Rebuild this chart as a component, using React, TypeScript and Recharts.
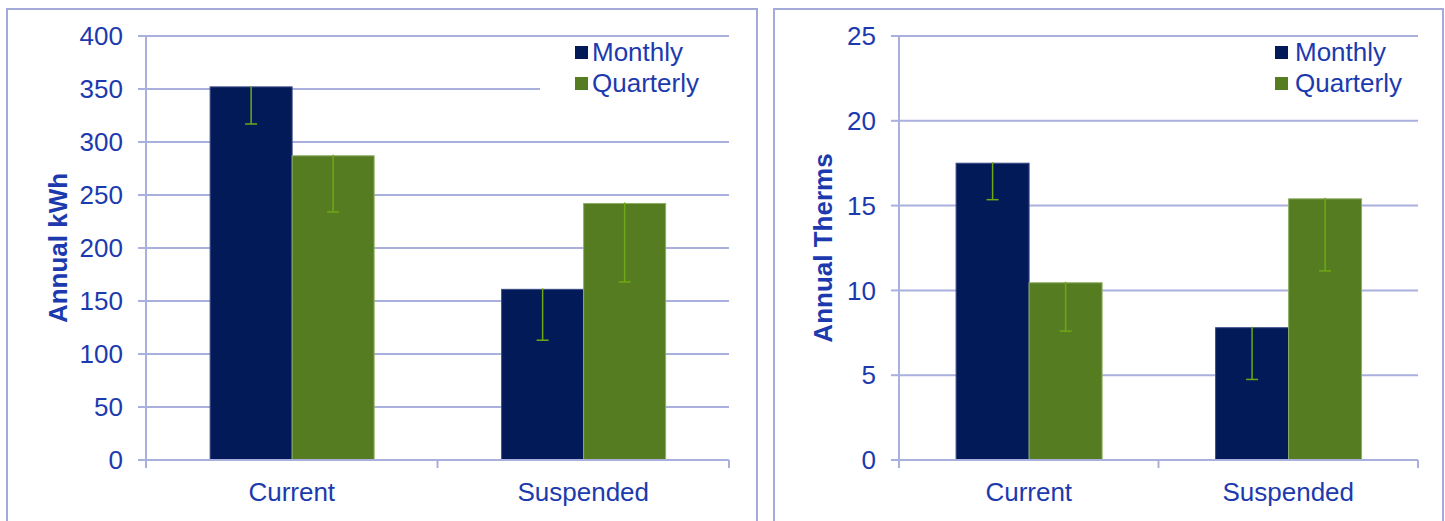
import React from 'react';
import { BarChart, Bar, XAxis, YAxis, CartesianGrid, Legend, Label } from 'recharts';

const categories = ['Current', 'Suspended'];
const seriesNames = ['Monthly', 'Quarterly'];

const kwhMonthly = [352, 161];
const kwhQuarterly = [287, 242];
const kwhMonthlyErr = [35, 48];
const kwhQuarterlyErr = [53, 74];
const kwhTicks = [0, 50, 100, 150, 200, 250, 300, 350, 400];

const thermMonthly = [17.5, 7.8];
const thermQuarterly = [10.45, 15.4];
const thermMonthlyErr = [2.15, 3.05];
const thermQuarterlyErr = [2.85, 4.25];
const thermTicks = [0, 5, 10, 15, 20, 25];

const NAVY = '#021A58';
const GREEN = '#557C20';
const ERR = '#6FA814';
const TEXT = '#1C3AAE';
const GRID = '#AAB0DE';
const BORDER = '#A3A9D8';
const FONT = '"Liberation Sans", Arial, sans-serif';
const X_TICK_MARGIN = 23;

const kwhData = categories.map((c, i) => ({
  category: c,
  Monthly: kwhMonthly[i],
  Quarterly: kwhQuarterly[i],
  MonthlyErr: kwhMonthlyErr[i],
  QuarterlyErr: kwhQuarterlyErr[i],
}));

const thermData = categories.map((c, i) => ({
  category: c,
  Monthly: thermMonthly[i],
  Quarterly: thermQuarterly[i],
  MonthlyErr: thermMonthlyErr[i],
  QuarterlyErr: thermQuarterlyErr[i],
}));

const makeBarShape = (errKey: string, outline: string) => (props: any) => {
  const { x, y, width, height, fill, payload, value } = props;
  const v = Array.isArray(value) ? value[1] - value[0] : value;
  const err = payload[errKey];
  const ppu = v ? height / v : 0;
  const cx = x + width / 2;
  const yErr = y + err * ppu;
  return (
    <g>
      <rect x={x} y={y} width={width} height={height} fill={fill} stroke={outline} strokeWidth={1} />
      <line x1={cx} x2={cx} y1={y - 1} y2={yErr} stroke={ERR} strokeWidth={1.5} />
      <line x1={cx - 6} x2={cx + 6} y1={yErr} y2={yErr} stroke={ERR} strokeWidth={1.5} />
    </g>
  );
};

const CatTick = (props: any) => {
  const { x, y, payload, index, visibleTicksCount } = props;
  const off = payload && payload.offset ? payload.offset : 0;
  const axisY = y - X_TICK_MARGIN;
  return (
    <g>
      <line x1={x - off} x2={x - off} y1={axisY} y2={axisY + 8} stroke={GRID} strokeWidth={2} />
      {index === visibleTicksCount - 1 && (
        <line x1={x + off} x2={x + off} y1={axisY} y2={axisY + 8} stroke={GRID} strokeWidth={2} />
      )}
      <text x={x} y={y} dy="0.71em" textAnchor="middle" fill={TEXT} fontSize={26} fontFamily={FONT}>
        {payload.value}
      </text>
    </g>
  );
};

const yLabel = (text: string, dx: number) => (p: any) => {
  const vb = p.viewBox || {};
  const cx = vb.x + dx;
  const cy = vb.y + vb.height / 2;
  return (
    <text
      x={cx}
      y={cy}
      transform={`rotate(-90, ${cx}, ${cy})`}
      textAnchor="middle"
      dominantBaseline="central"
      fill={TEXT}
      fontSize={26}
      fontWeight="bold"
      fontFamily={FONT}
    >
      {text}
    </text>
  );
};

const LegendContent = (gap: number) => (props: any) => {
  const payload = props.payload || [];
  return (
    <div>
      {payload.map((item: any) => (
        <div key={item.value} style={{ display: 'flex', alignItems: 'center', height: 31 }}>
          <span
            style={{ display: 'inline-block', width: 13, height: 13, background: item.color, marginRight: gap }}
          />
          <span style={{ fontSize: 26, color: TEXT, lineHeight: '31px', fontFamily: FONT }}>{item.value}</span>
        </div>
      ))}
    </div>
  );
};

type PanelProps = {
  data: any[];
  width: number;
  marginLeft: number;
  marginRight: number;
  yWidth: number;
  ticks: number[];
  domain: [number, number];
  label: string;
  labelDx: number;
  legendLeft: number;
  legendPad: number;
  legendWidth: number;
  legendGap: number;
};

const Panel = (p: PanelProps) => (
  <BarChart
    width={p.width}
    height={521}
    data={p.data}
    margin={{ top: 36, right: p.marginRight, left: p.marginLeft, bottom: 21 }}
    barCategoryGap="22%"
    barGap={0}
  >
    <CartesianGrid horizontal vertical={false} stroke={GRID} strokeWidth={2} />
    <XAxis
      dataKey="category"
      interval={0}
      tickLine={false}
      tickSize={0}
      tickMargin={X_TICK_MARGIN}
      axisLine={{ stroke: GRID, strokeWidth: 2 }}
      tick={<CatTick />}
      height={40}
    />
    <YAxis
      domain={p.domain}
      ticks={p.ticks}
      interval={0}
      width={p.yWidth}
      tickSize={8}
      tickMargin={15}
      axisLine={{ stroke: GRID, strokeWidth: 2 }}
      tickLine={{ stroke: GRID, strokeWidth: 2 }}
      tick={{ fill: TEXT, fontSize: 26, fontFamily: FONT }}
    >
      <Label content={yLabel(p.label, p.labelDx)} />
    </YAxis>
    <Legend
      layout="vertical"
      align="center"
      verticalAlign="middle"
      content={LegendContent(p.legendGap)}
      wrapperStyle={{
        left: p.legendLeft,
        top: 37,
        width: p.legendWidth,
        height: 65,
        paddingLeft: p.legendPad,
        boxSizing: 'border-box',
        background: '#fff',
      }}
    />
    <Bar dataKey="Monthly" name={seriesNames[0]} fill={NAVY} isAnimationActive={false} shape={makeBarShape('MonthlyErr', '#3B4A86')} />
    <Bar dataKey="Quarterly" name={seriesNames[1]} fill={GREEN} isAnimationActive={false} shape={makeBarShape('QuarterlyErr', '#8FAE66')} />
  </BarChart>
);

export default function App() {
  return (
    <div
      style={{
        position: 'absolute',
        left: 0,
        top: 0,
        width: 1445,
        height: 521,
        overflow: 'hidden',
        background: '#fff',
        fontFamily: FONT,
      }}
    >
      <div style={{ position: 'absolute', left: 6, top: 8, width: 752, height: 560, border: `2px solid ${BORDER}`, boxSizing: 'border-box' }} />
      <div style={{ position: 'absolute', left: 773, top: 8, width: 671, height: 560, border: `2px solid ${BORDER}`, boxSizing: 'border-box' }} />
      <div style={{ position: 'absolute', left: 0, top: 0 }}>
        <Panel
          data={kwhData}
          width={760}
          marginLeft={30}
          marginRight={31}
          yWidth={116}
          ticks={kwhTicks}
          domain={[0, 400]}
          label="Annual kWh"
          labelDx={28}
          legendLeft={540}
          legendPad={35}
          legendWidth={189}
          legendGap={4}
        />
      </div>
      <div style={{ position: 'absolute', left: 765, top: 0 }}>
        <Panel
          data={thermData}
          width={680}
          marginLeft={20}
          marginRight={27}
          yWidth={114}
          ticks={thermTicks}
          domain={[0, 25]}
          label="Annual Therms"
          labelDx={38}
          legendLeft={480}
          legendPad={30}
          legendWidth={170}
          legendGap={7}
        />
      </div>
    </div>
  );
}
